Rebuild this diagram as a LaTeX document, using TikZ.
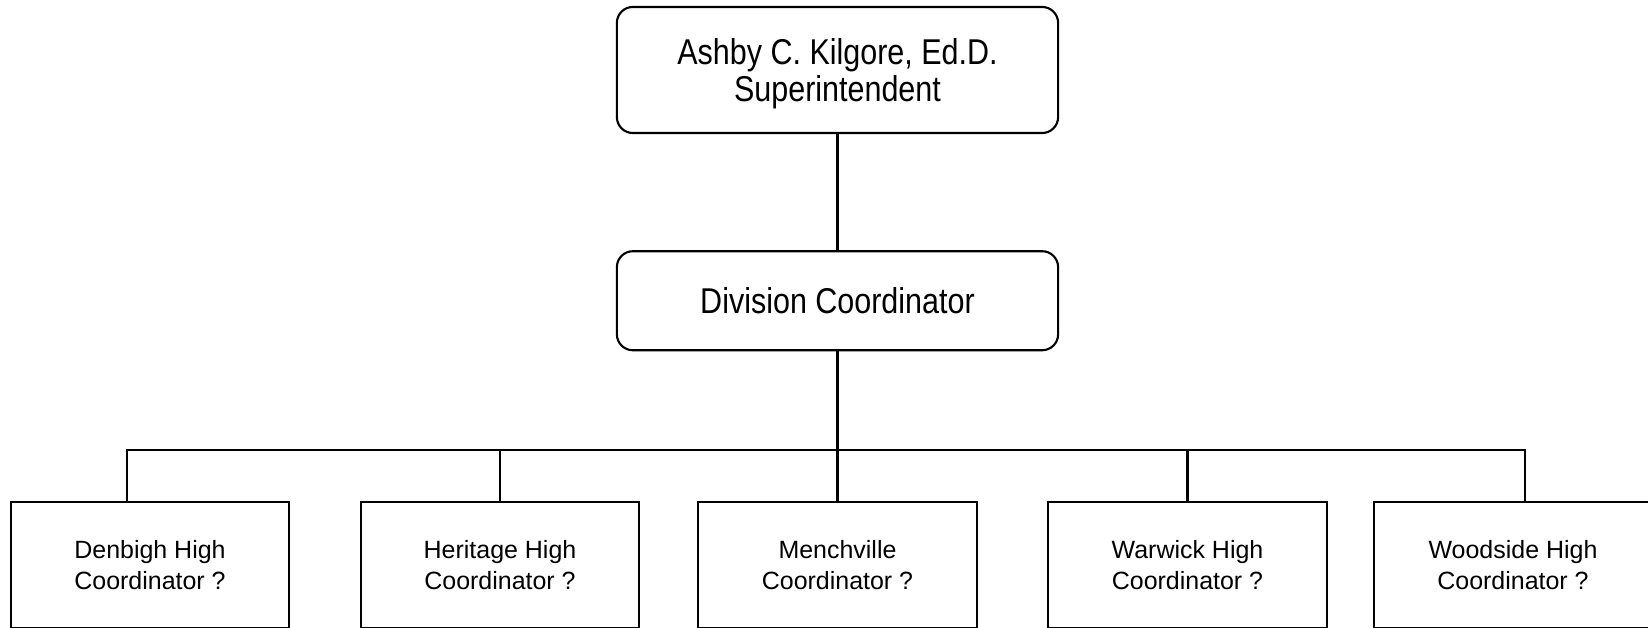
\documentclass[tikz,border=0pt]{standalone}
\usepackage{fontspec}
\setmainfont{Liberation Sans}
\newfontfamily\condfont[FakeStretch=0.85]{Liberation Sans}
\usepackage{tikz}
\usetikzlibrary{positioning}
\tikzstyle{head}=[rectangle, draw=black, rounded corners=0.16cm, line width=0.6pt, inner sep=0pt, minimum width=4.41cm, align=center, font=\condfont\fontsize{10.2}{9.4}\selectfont]
\tikzstyle{school}=[rectangle, draw=black, line width=0.6pt, inner sep=0pt, minimum width=2.78cm, minimum height=1.26cm, align=center, font=\fontsize{7.1}{8.8}\selectfont]
\tikzstyle{link}=[line width=0.6pt]

\begin{document}
\begin{tikzpicture}[x=0.01cm, y=-0.01cm]
    \useasboundingbox (0,0) rectangle (1648,628);
    \node[head, minimum height=1.26cm, text depth=0pt] (sup) at (837.5,70) {Ashby C. Kilgore, Ed.D.\\Superintendent};
	\node[head, minimum height=0.99cm] (div) [below=1.16cm of sup] {Division Coordinator};

    \node[school] (denbigh) at (150,565) {Denbigh High\\Coordinator ?};
    \node[school] (heritage) at (500,565) {Heritage High\\Coordinator ?};
    \node[school] (menchville) at (837.5,565) {Menchville\\Coordinator ?};
    \node[school] (warwick) at (1187.5,565) {Warwick High\\Coordinator ?};
    \node[school] (woodside) at (1513,565) {Woodside High\\Coordinator ?};

    \draw[link] (sup.south) -- (div.north);
    \draw[link] ([xshift=-0.23cm]denbigh.north) -- ++(0,-51) -| (div.south);
    \draw[link] (heritage.north) -- ++(0,-51) -| (div.south);
    \draw[link] (menchville.north) -- (div.south);
    \draw[link] (warwick.north) -- ++(0,-51) -| (div.south);
    \draw[link] ([xshift=0.12cm]woodside.north) -- ++(0,-51) -| (div.south);
\end{tikzpicture}
\end{document}
